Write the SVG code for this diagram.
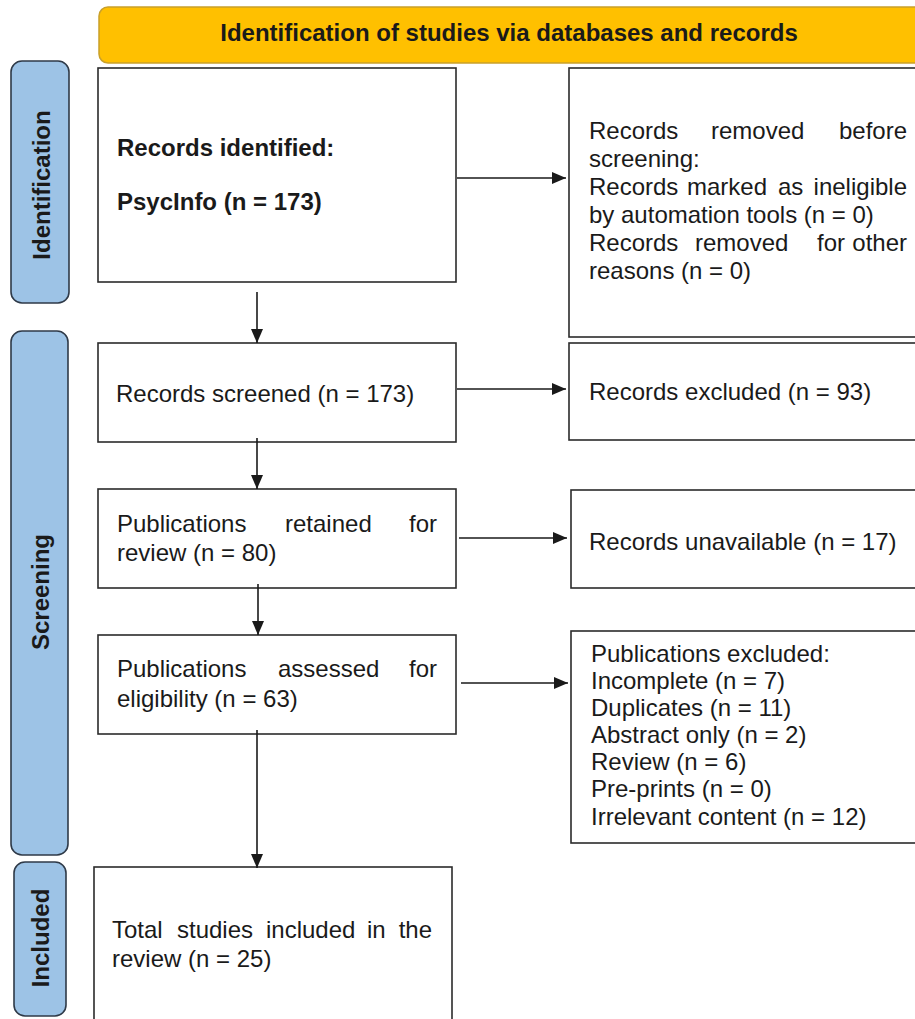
<svg xmlns="http://www.w3.org/2000/svg" width="915" height="1019" viewBox="0 0 915 1019">
<style>
.box{fill:#fff;stroke:#2b2b2b;stroke-width:1.6}
.side{fill:#9dc3e6;stroke:#2f3a48;stroke-width:1.6}
.t{font-family:"Liberation Sans",Arial,sans-serif;font-size:24px;fill:#1a1a1a}
.b{font-weight:bold}
.conn{stroke:#1a1a1a;stroke-width:1.6;fill:none}
</style>
<defs>
<marker id="ah" markerUnits="userSpaceOnUse" markerWidth="14" markerHeight="12" refX="14" refY="6" orient="auto">
<path d="M0,0 L14,6 L0,12 z" fill="#1a1a1a"/>
</marker>
</defs>
<rect width="915" height="1019" fill="#fff"/>
<g id="header">
<rect x="99" y="7" width="830" height="56" rx="9" fill="#ffc000" stroke="#c9a02a" stroke-width="1.5"/>
<text class="t b" x="509" y="41" text-anchor="middle">Identification of studies via databases and records</text>
</g>
<g id="label-identification">
<rect class="side" x="11" y="61" width="58" height="242" rx="11"/>
<text class="t b" transform="translate(50,185) rotate(-90)" text-anchor="middle" font-size="23">Identification</text>
</g>
<g id="label-screening">
<rect class="side" x="11" y="331" width="57" height="524" rx="11"/>
<text class="t b" transform="translate(49,592) rotate(-90)" text-anchor="middle" font-size="23">Screening</text>
</g>
<g id="label-included">
<rect class="side" x="14" y="862" width="52" height="154" rx="11"/>
<text class="t b" transform="translate(49,938) rotate(-90)" text-anchor="middle" font-size="23">Included</text>
</g>
<g id="records-identified">
<rect class="box" x="98" y="68" width="358" height="214"/>
<text class="t b" x="117" y="156">Records identified:</text>
<text class="t b" x="117" y="210">PsycInfo (n = 173)</text>
</g>
<g id="records-removed">
<rect class="box" x="569" y="68" width="360" height="269"/>
<text class="t" y="139"><tspan x="589">Records</tspan><tspan x="711">removed</tspan><tspan x="907" text-anchor="end">before</tspan></text>
<text class="t" x="589" y="167">screening:</text>
<text class="t" y="195"><tspan x="589">Records</tspan><tspan x="687">marked</tspan><tspan x="778">as</tspan><tspan x="907" text-anchor="end">ineligible</tspan></text>
<text class="t" x="589" y="223">by automation tools (n = 0)</text>
<text class="t" y="251"><tspan x="589">Records</tspan><tspan x="695">removed</tspan><tspan x="817">for</tspan><tspan x="907" text-anchor="end">other</tspan></text>
<text class="t" x="589" y="279">reasons (n = 0)</text>
</g>
<g id="records-screened">
<rect class="box" x="98" y="343" width="358" height="99"/>
<text class="t" x="116" y="402">Records screened (n = 173)</text>
</g>
<g id="records-excluded">
<rect class="box" x="569" y="343" width="360" height="97"/>
<text class="t" x="589" y="400">Records excluded (n = 93)</text>
</g>
<g id="publications-retained">
<rect class="box" x="98" y="489" width="358" height="99"/>
<text class="t" y="532"><tspan x="117">Publications</tspan><tspan x="285">retained</tspan><tspan x="437" text-anchor="end">for</tspan></text>
<text class="t" x="117" y="561">review (n = 80)</text>
</g>
<g id="records-unavailable">
<rect class="box" x="571" y="490" width="360" height="98"/>
<text class="t" x="589" y="550">Records unavailable (n = 17)</text>
</g>
<g id="publications-assessed">
<rect class="box" x="98" y="635" width="358" height="99"/>
<text class="t" y="677"><tspan x="117">Publications</tspan><tspan x="278">assessed</tspan><tspan x="437" text-anchor="end">for</tspan></text>
<text class="t" x="117" y="707">eligibility (n = 63)</text>
</g>
<g id="publications-excluded">
<rect class="box" x="571" y="631" width="360" height="212"/>
<text class="t" x="591" y="662">Publications excluded:</text>
<text class="t" x="591" y="689">Incomplete (n = 7)</text>
<text class="t" x="591" y="716">Duplicates (n = 11)</text>
<text class="t" x="591" y="743">Abstract only (n = 2)</text>
<text class="t" x="591" y="770">Review (n = 6)</text>
<text class="t" x="591" y="797">Pre-prints (n = 0)</text>
<text class="t" x="591" y="825">Irrelevant content (n = 12)</text>
</g>
<g id="total-included">
<rect class="box" x="94" y="867" width="358" height="170"/>
<text class="t" y="938"><tspan x="112">Total</tspan><tspan x="177">studies</tspan><tspan x="266">included</tspan><tspan x="367">in</tspan><tspan x="432" text-anchor="end">the</tspan></text>
<text class="t" x="112" y="967">review (n = 25)</text>
</g>
<g id="connectors">
<line class="conn" x1="457" y1="178" x2="566" y2="178" marker-end="url(#ah)"/>
<line class="conn" x1="257" y1="292" x2="257" y2="343" marker-end="url(#ah)"/>
<line class="conn" x1="457" y1="389" x2="566" y2="389" marker-end="url(#ah)"/>
<line class="conn" x1="257" y1="438" x2="257" y2="489" marker-end="url(#ah)"/>
<line class="conn" x1="459" y1="538" x2="567" y2="538" marker-end="url(#ah)"/>
<line class="conn" x1="258" y1="584" x2="258" y2="635" marker-end="url(#ah)"/>
<line class="conn" x1="461" y1="683" x2="568" y2="683" marker-end="url(#ah)"/>
<line class="conn" x1="257" y1="730" x2="257" y2="868" marker-end="url(#ah)"/>
</g>
</svg>
